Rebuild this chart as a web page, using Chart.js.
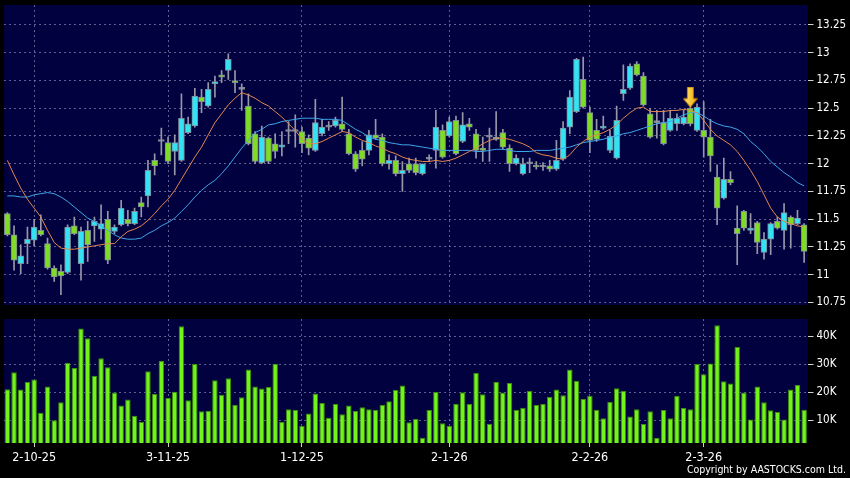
<!DOCTYPE html>
<html>
<head>
<meta charset="utf-8">
<script src="https://cdn.jsdelivr.net/npm/chart.js@4.4.1/dist/chart.umd.min.js"></script>
<style>
  html, body { margin: 0; padding: 0; background: #000; }
  #wrap { position: relative; width: 850px; height: 478px; overflow: hidden; background: #000; }
  #price { position: absolute; left: 0; top: 0; }
  #volume { position: absolute; left: 0; top: 312px; }
  #copy {
    position: absolute; right: 4px; top: 463px; color: #fff;
    font: 10.5px "DejaVu Sans Condensed", "DejaVu Sans", sans-serif;
    white-space: nowrap;
  }
</style>
</head>
<body>
<div id="wrap">
  <canvas id="price" width="850" height="312"></canvas>
  <canvas id="volume" width="850" height="166"></canvas>
  <div id="copy">Copyright by AASTOCKS.com Ltd.</div>
</div>
<script>
// trading days (category index) and the dated ticks under the volume panel
const days = Array.from({ length: 120 }, (_, i) => i);
const dateTickDays = [4, 24, 44, 66, 87, 104];
const dateTickText = ["2-10-25", "3-11-25", "1-12-25", "2-1-26", "2-2-26", "2-3-26"];

const priceTicks = [10.75, 11, 11.25, 11.5, 11.75, 12, 12.25, 12.5, 12.75, 13, 13.25];
const volumeTicks = [10000, 20000, 30000, 40000];

const opens = [11.55,11.36,11.10,11.28,11.31,11.40,11.28,11.06,11.03,11.02,
  11.44,11.10,11.40,11.44,11.41,11.50,11.39,11.45,11.50,11.46,
  11.65,11.71,12.03,12.20,12.19,12.11,12.03,12.28,12.34,12.60,
  12.52,12.72,12.80,12.84,12.74,12.67,12.52,12.27,12.01,12.23,
  12.18,12.15,12.29,12.29,12.29,12.23,12.12,12.27,12.33,12.34,
  12.36,12.27,12.09,12.12,12.12,12.26,12.24,12.00,12.03,11.91,
  12.00,12.00,11.91,12.04,12.12,12.30,12.25,12.39,12.20,12.36,
  12.27,12.14,12.24,12.22,12.28,12.14,12.00,11.91,12.00,11.98,
  11.97,11.98,11.95,12.04,12.33,12.47,12.76,12.46,12.30,12.32,
  12.12,12.05,12.63,12.68,12.90,12.79,12.45,12.37,12.37,12.30,
  12.36,12.36,12.50,12.30,12.30,12.24,11.88,11.69,11.86,11.42,
  11.57,11.40,11.47,11.20,11.32,11.48,11.40,11.52,11.46,11.45];

const highs = [11.56,11.44,11.27,11.43,11.50,11.54,11.33,11.08,11.09,11.45,
  11.52,11.43,11.48,11.52,11.63,11.57,11.45,11.67,11.58,11.60,
  11.70,12.03,12.09,12.32,12.24,12.26,12.63,12.42,12.68,12.67,
  12.73,12.79,12.84,12.99,12.84,12.72,12.63,12.29,12.34,12.24,
  12.27,12.29,12.38,12.44,12.33,12.26,12.58,12.40,12.38,12.42,
  12.60,12.31,12.11,12.20,12.30,12.40,12.27,12.08,12.07,12.02,
  12.05,12.05,12.00,12.08,12.48,12.35,12.42,12.43,12.46,12.41,
  12.31,12.24,12.32,12.47,12.31,12.17,12.08,12.05,12.05,12.02,
  12.01,12.03,12.21,12.38,12.66,12.95,12.96,12.51,12.40,12.43,
  12.30,12.52,12.89,12.90,12.92,12.82,12.50,12.48,12.48,12.48,
  12.45,12.48,12.52,12.54,12.56,12.40,11.99,12.05,11.93,11.62,
  11.58,11.55,11.48,11.38,11.47,11.52,11.64,11.53,11.58,11.46];

const lows = [11.35,11.04,11.01,11.10,11.26,11.35,11.05,10.94,10.82,11.01,
  11.36,10.95,11.12,11.30,11.32,11.10,11.37,11.44,11.44,11.45,
  11.52,11.61,11.90,12.08,12.00,11.90,12.02,12.27,12.33,12.46,
  12.51,12.60,12.73,12.76,12.64,12.48,12.17,12.00,12.00,12.00,
  12.05,12.07,12.18,12.15,12.10,12.08,12.11,12.25,12.30,12.33,
  12.29,12.08,11.93,11.98,12.08,12.22,11.98,11.95,11.89,11.75,
  11.92,11.90,11.90,12.02,11.96,12.05,12.24,12.08,12.19,12.30,
  12.05,12.02,12.02,12.21,12.13,11.93,11.99,11.90,11.92,11.95,
  11.94,11.93,11.94,12.03,12.27,12.46,12.50,12.10,12.20,12.31,
  12.10,12.04,12.57,12.67,12.79,12.52,12.23,12.23,12.17,12.29,
  12.30,12.35,12.34,12.29,12.06,11.93,11.45,11.68,11.81,11.09,
  11.40,11.37,11.19,11.14,11.18,11.41,11.23,11.24,11.45,11.11];

const closes = [11.36,11.13,11.17,11.32,11.43,11.36,11.06,10.98,10.99,11.43,
  11.37,11.39,11.27,11.48,11.46,11.13,11.43,11.60,11.46,11.57,
  11.61,11.94,11.98,12.20,12.02,12.19,12.41,12.36,12.61,12.56,
  12.67,12.74,12.78,12.94,12.73,12.67,12.18,12.02,12.24,12.02,
  12.11,12.17,12.29,12.29,12.18,12.14,12.37,12.33,12.33,12.39,
  12.31,12.09,11.95,12.04,12.26,12.23,12.00,12.03,11.91,11.94,
  11.94,11.92,12.00,12.04,12.33,12.06,12.38,12.09,12.35,12.33,
  12.12,12.12,12.24,12.24,12.15,12.00,12.05,12.00,12.00,11.97,
  11.97,11.95,12.03,12.32,12.60,12.94,12.51,12.21,12.22,12.34,
  12.25,12.39,12.67,12.88,12.80,12.53,12.24,12.37,12.18,12.41,
  12.41,12.42,12.36,12.51,12.24,12.07,11.60,11.86,11.83,11.37,
  11.42,11.42,11.29,11.32,11.46,11.42,11.56,11.45,11.51,11.21];

// moving averages as drawn (orange = short, blue = long)
const maShort = [12.03,11.90,11.78,11.68,11.60,11.52,11.40,11.29,11.24,11.23,
  11.23,11.24,11.25,11.26,11.27,11.28,11.28,11.34,11.39,11.41,
  11.44,11.49,11.55,11.62,11.68,11.76,11.86,11.96,12.06,12.15,
  12.26,12.37,12.45,12.53,12.59,12.64,12.62,12.59,12.55,12.52,
  12.47,12.42,12.36,12.30,12.22,12.18,12.18,12.20,12.23,12.26,
  12.29,12.28,12.24,12.21,12.19,12.16,12.14,12.11,12.09,12.06,
  12.04,12.03,12.02,12.02,12.03,12.02,12.03,12.05,12.08,12.11,
  12.14,12.18,12.21,12.23,12.23,12.22,12.20,12.18,12.15,12.10,
  12.08,12.07,12.05,12.04,12.08,12.15,12.20,12.24,12.26,12.28,
  12.31,12.35,12.41,12.46,12.50,12.51,12.47,12.47,12.47,12.48,
  12.48,12.49,12.48,12.46,12.39,12.31,12.25,12.21,12.17,12.11,
  12.03,11.94,11.84,11.72,11.60,11.52,11.48,11.46,11.44,11.43];

const maLong = [11.71,11.71,11.70,11.70,11.72,11.73,11.74,11.73,11.70,11.66,
  11.61,11.56,11.51,11.48,11.44,11.40,11.36,11.33,11.32,11.32,
  11.33,11.37,11.40,11.44,11.47,11.51,11.57,11.63,11.70,11.76,
  11.81,11.85,11.91,11.98,12.06,12.14,12.21,12.28,12.31,12.35,
  12.36,12.38,12.39,12.40,12.41,12.41,12.41,12.40,12.40,12.40,
  12.39,12.35,12.31,12.28,12.24,12.22,12.21,12.19,12.18,12.17,
  12.17,12.16,12.15,12.14,12.13,12.12,12.12,12.12,12.12,12.12,
  12.11,12.11,12.12,12.13,12.13,12.12,12.11,12.11,12.11,12.12,
  12.12,12.12,12.13,12.14,12.15,12.17,12.19,12.20,12.21,12.22,
  12.24,12.25,12.27,12.28,12.30,12.32,12.34,12.36,12.37,12.38,
  12.41,12.44,12.46,12.46,12.43,12.39,12.36,12.34,12.33,12.31,
  12.27,12.20,12.15,12.09,12.02,11.97,11.92,11.88,11.83,11.80];

const volumes = [21000,27100,20900,23600,24500,12600,22000,9900,16400,30500,
  28600,42700,39200,25800,32100,28900,19800,15200,17300,11500,
  9300,27400,19300,31200,17900,20100,43500,17100,30000,13100,
  13300,24200,19000,24900,15500,18100,28100,22000,21300,21800,
  30100,9400,13900,13600,7900,12300,19500,16100,10800,15700,
  12100,15200,13200,14600,13900,13700,15400,16700,20700,22300,
  9200,10400,3700,13600,20000,8900,7900,15800,19900,15700,
  26800,19200,8700,23700,19800,23200,13600,14400,20400,15400,
  15700,18200,20900,18900,28100,24000,17500,18700,13700,10600,
  16500,21400,20500,11300,13900,8600,13100,3700,13600,10600,
  18700,14300,13900,30000,26400,30200,43900,23900,23100,36100,
  19800,10200,22000,16400,13500,12900,10200,20900,22500,13700];

// signal arrow
const signalDay = 102;
const signalPrice = 12.60;

const NAVY = "#010140";
const GRID = "rgba(125,125,170,0.75)";
const UP = "#33e3f3";
const DOWN = "#7fdc24";
const FLAT = "#9a9aaa";
const WICK = "#9797a8";
const FONT = '"DejaVu Sans Condensed", "DejaVu Sans", sans-serif';

const plotBg = {
  id: "plotBg",
  beforeDraw(chart) {
    const { ctx, chartArea: a } = chart;
    ctx.save();
    ctx.fillStyle = NAVY;
    ctx.fillRect(a.left, a.top, a.right - a.left, a.bottom - a.top);
    ctx.restore();
  },
};

// fixed right axis, no extra room for the end labels
const fitRightAxis = (s) => {
  s.width = 42.5;
  s.paddingTop = 0;
  s.paddingBottom = 0;
};

const makeArrow = () => {
  const c = document.createElement("canvas");
  c.width = 15;
  c.height = 21;
  const g = c.getContext("2d");
  const grad = g.createLinearGradient(0, 0, 15, 0);
  grad.addColorStop(0, "#fff07a");
  grad.addColorStop(1, "#f2a200");
  g.beginPath();
  g.moveTo(4.5, 0.5);
  g.lineTo(10.5, 0.5);
  g.lineTo(10.5, 12);
  g.lineTo(14.5, 12);
  g.lineTo(7.5, 20.5);
  g.lineTo(0.5, 12);
  g.lineTo(4.5, 12);
  g.closePath();
  g.fillStyle = grad;
  g.fill();
  g.strokeStyle = "#c47c00";
  g.lineWidth = 1;
  g.stroke();
  return c;
};

const isDateTick = (i) => dateTickDays.includes(i);

const candleColor = (i) =>
  closes[i] > opens[i] ? UP : closes[i] < opens[i] ? DOWN : FLAT;

new Chart(document.getElementById("price"), {
  type: "bar",
  data: {
    labels: days,
    datasets: [
      {
        type: "line",
        label: "signal",
        data: days.map((d) => (d === signalDay ? signalPrice : null)),
        showLine: false,
        pointStyle: makeArrow(),
        pointRadius: 8,
        order: 0,
      },
      {
        type: "line",
        label: "MA short",
        data: maShort,
        borderColor: "#e3864f",
        borderWidth: 1,
        pointRadius: 0,
        tension: 0,
        order: 1,
      },
      {
        type: "line",
        label: "MA long",
        data: maLong,
        borderColor: "#3ea6e8",
        borderWidth: 1,
        pointRadius: 0,
        tension: 0,
        order: 2,
      },
      {
        label: "body",
        data: opens.map((o, i) => [o, closes[i]]),
        backgroundColor: (ctx) => candleColor(ctx.dataIndex),
        borderColor: "rgba(140,150,160,0.9)",
        borderWidth: 1,
        borderSkipped: false,
        barThickness: 6,
        minBarLength: 2,
        grouped: false,
        order: 3,
      },
      {
        label: "wick",
        data: lows.map((l, i) => [l, highs[i]]),
        backgroundColor: WICK,
        barThickness: 1,
        grouped: false,
        order: 4,
      },
    ],
  },
  options: {
    responsive: false,
    animation: false,
    layout: { autoPadding: false, padding: { left: 4, top: 5, bottom: 7, right: 0 } },
    plugins: { legend: { display: false }, tooltip: { enabled: false } },
    scales: {
      x: {
        offset: true,
        afterFit: (s) => { s.height = 0; },
        grid: {
          offset: false,
          drawTicks: false,
          color: (ctx) => (isDateTick(ctx.index) ? GRID : "transparent"),
        },
        border: { display: false, dash: [2, 3] },
        ticks: { display: false, autoSkip: false },
      },
      y: {
        position: "right",
        min: 10.727,
        max: 13.43,
        afterBuildTicks: (s) => { s.ticks = priceTicks.map((v) => ({ value: v })); },
        afterFit: fitRightAxis,
        grid: { color: GRID, tickColor: "#d0d0d0", tickLength: 6 },
        border: { display: false, dash: [2, 3] },
        ticks: {
          color: "#ffffff",
          padding: 3,
          font: { family: FONT, size: 11.5 },
          callback: (v) => String(v),
        },
      },
    },
  },
  plugins: [plotBg],
});

new Chart(document.getElementById("volume"), {
  type: "bar",
  data: {
    labels: days,
    datasets: [
      {
        label: "volume",
        data: volumes,
        backgroundColor: "#72f41a",
        borderColor: "#3d8c0c",
        borderWidth: 1,
        borderSkipped: false,
        barPercentage: 0.82,
        categoryPercentage: 1,
      },
    ],
  },
  options: {
    responsive: false,
    animation: false,
    layout: { autoPadding: false, padding: { left: 4, top: 7, bottom: 0, right: 0 } },
    plugins: { legend: { display: false }, tooltip: { enabled: false } },
    scales: {
      x: {
        offset: true,
        afterFit: (s) => { s.height = 35; },
        grid: {
          offset: false,
          tickLength: 4,
          color: (ctx) => (isDateTick(ctx.index) ? GRID : "transparent"),
          tickColor: (ctx) => (isDateTick(ctx.index) ? "#d0d0d0" : "transparent"),
        },
        border: { display: false, dash: [2, 3] },
        ticks: {
          autoSkip: false,
          maxRotation: 0,
          padding: 3,
          color: "#ffffff",
          font: { family: FONT, size: 12.5 },
          callback: (v, i) => {
            const k = dateTickDays.indexOf(i);
            return k >= 0 ? dateTickText[k] : "";
          },
        },
      },
      y: {
        position: "right",
        min: 1800,
        max: 46100,
        afterBuildTicks: (s) => { s.ticks = volumeTicks.map((v) => ({ value: v })); },
        afterFit: fitRightAxis,
        grid: { color: GRID, tickColor: "#d0d0d0", tickLength: 6 },
        border: { display: false, dash: [2, 3] },
        ticks: {
          color: "#ffffff",
          padding: 3,
          font: { family: FONT, size: 11.5 },
          callback: (v) => v / 1000 + "K",
        },
      },
    },
  },
  plugins: [plotBg],
});
</script>
</body>
</html>
